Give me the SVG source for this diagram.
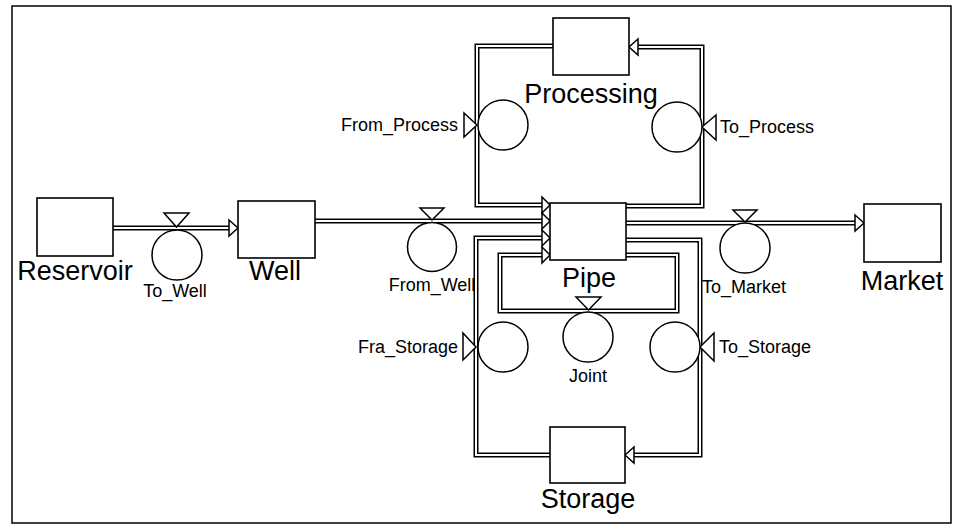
<svg xmlns="http://www.w3.org/2000/svg" width="953" height="525" viewBox="0 0 953 525">
<style>
.box{fill:#fff;stroke:#000;stroke-width:1.6}
.valve{fill:#fff;stroke:#000;stroke-width:1.5}
.tri{fill:#fff;stroke:#000;stroke-width:1.5;stroke-linejoin:miter}
.pipeO{fill:none;stroke:#000;stroke-width:5;stroke-linejoin:miter}
.pipeI{fill:none;stroke:#fff;stroke-width:2;stroke-linejoin:miter}
.big{font-family:"Liberation Sans",Arial,sans-serif;font-size:27px;fill:#000}
.small{font-family:"Liberation Sans",Arial,sans-serif;font-size:18px;fill:#000}
</style>
<rect x="0" y="0" width="953" height="525" fill="#fff"/>
<rect x="12" y="6" width="939" height="517" fill="none" stroke="#000" stroke-width="1.5"/>

<g id="connectors">
  <path class="pipeO" d="M113,228 H230"/>
  <path class="pipeI" d="M113,228 H230"/>
  <path class="pipeO" d="M315,221 H543"/>
  <path class="pipeI" d="M315,221 H543"/>
  <path class="pipeO" d="M626,223 H856"/>
  <path class="pipeI" d="M626,223 H856"/>
  <path class="pipeO" d="M553,46 H477 V205 H543"/>
  <path class="pipeI" d="M553,46 H477 V205 H543"/>
  <path class="pipeO" d="M626,206 H702 V47 H637"/>
  <path class="pipeI" d="M626,206 H702 V47 H637"/>
  <path class="pipeO" d="M550,455 H476 V238 H543"/>
  <path class="pipeI" d="M550,455 H476 V238 H543"/>
  <path class="pipeO" d="M626,240 H700 V455 H633"/>
  <path class="pipeI" d="M626,240 H700 V455 H633"/>
  <path class="pipeO" d="M626,255 H677 V311 H500 V255 H543"/>
  <path class="pipeI" d="M626,255 H677 V311 H500 V255 H543"/>
  <polygon class="tri" points="229,220 238,228 229,236"/>
  <polygon class="tri" points="542,197 550,205 542,213"/>
  <polygon class="tri" points="542,213 550,221 542,229"/>
  <polygon class="tri" points="542,230 550,238 542,246"/>
  <polygon class="tri" points="542,247 550,255 542,263"/>
  <polygon class="tri" points="855,215 864,223 855,231"/>
  <polygon class="tri" points="638,39 629,47 638,55"/>
  <polygon class="tri" points="634,447 625,455 634,463"/>
</g>

<g id="Reservoir">
  <rect class="box" x="37" y="198" width="76" height="58"/>
  <text class="big" x="75" y="280" text-anchor="middle">Reservoir</text>
</g>
<g id="Well">
  <rect class="box" x="238" y="201" width="77" height="57"/>
  <text class="big" x="275" y="280" text-anchor="middle">Well</text>
</g>
<g id="Pipe">
  <rect class="box" x="550" y="203" width="76" height="57"/>
  <text class="big" x="589" y="287" text-anchor="middle">Pipe</text>
</g>
<g id="Market">
  <rect class="box" x="864" y="204" width="77" height="58"/>
  <text class="big" x="902" y="290" text-anchor="middle">Market</text>
</g>
<g id="Processing">
  <rect class="box" x="553" y="18" width="76" height="57"/>
  <text class="big" x="591" y="103" text-anchor="middle">Processing</text>
</g>
<g id="Storage">
  <rect class="box" x="550" y="427" width="75" height="56"/>
  <text class="big" x="588" y="508" text-anchor="middle">Storage</text>
</g>

<g id="To_Well">
  <polygon class="tri" points="164,213 189,213 176.5,227"/>
  <circle class="valve" cx="177" cy="255" r="25"/>
  <text class="small" x="175" y="297" text-anchor="middle">To_Well</text>
</g>
<g id="From_Well">
  <polygon class="tri" points="420,208 444,208 432,220"/>
  <circle class="valve" cx="432" cy="247" r="24.5"/>
  <text class="small" x="432" y="291" text-anchor="middle">From_Well</text>
</g>
<g id="To_Market">
  <polygon class="tri" points="733,210 757,210 745,222"/>
  <circle class="valve" cx="745" cy="248" r="25"/>
  <text class="small" x="702" y="293">To_Market</text>
</g>
<g id="From_Process">
  <polygon class="tri" points="464,113 477,125 464,137"/>
  <circle class="valve" cx="503" cy="125" r="25"/>
  <text class="small" x="458" y="131" text-anchor="end">From_Process</text>
</g>
<g id="To_Process">
  <polygon class="tri" points="716,115 702,127 716,140"/>
  <circle class="valve" cx="677" cy="127" r="25"/>
  <text class="small" x="720" y="133">To_Process</text>
</g>
<g id="Fra_Storage">
  <polygon class="tri" points="463,333 476,347 463,360"/>
  <circle class="valve" cx="503" cy="347" r="25"/>
  <text class="small" x="458" y="353" text-anchor="end">Fra_Storage</text>
</g>
<g id="To_Storage">
  <polygon class="tri" points="714,333 700,347 714,361"/>
  <circle class="valve" cx="675" cy="347" r="25"/>
  <text class="small" x="719" y="353">To_Storage</text>
</g>
<g id="Joint">
  <polygon class="tri" points="576,297 601,297 588.5,310"/>
  <circle class="valve" cx="588" cy="337" r="25"/>
  <text class="small" x="588" y="382" text-anchor="middle">Joint</text>
</g>
</svg>
